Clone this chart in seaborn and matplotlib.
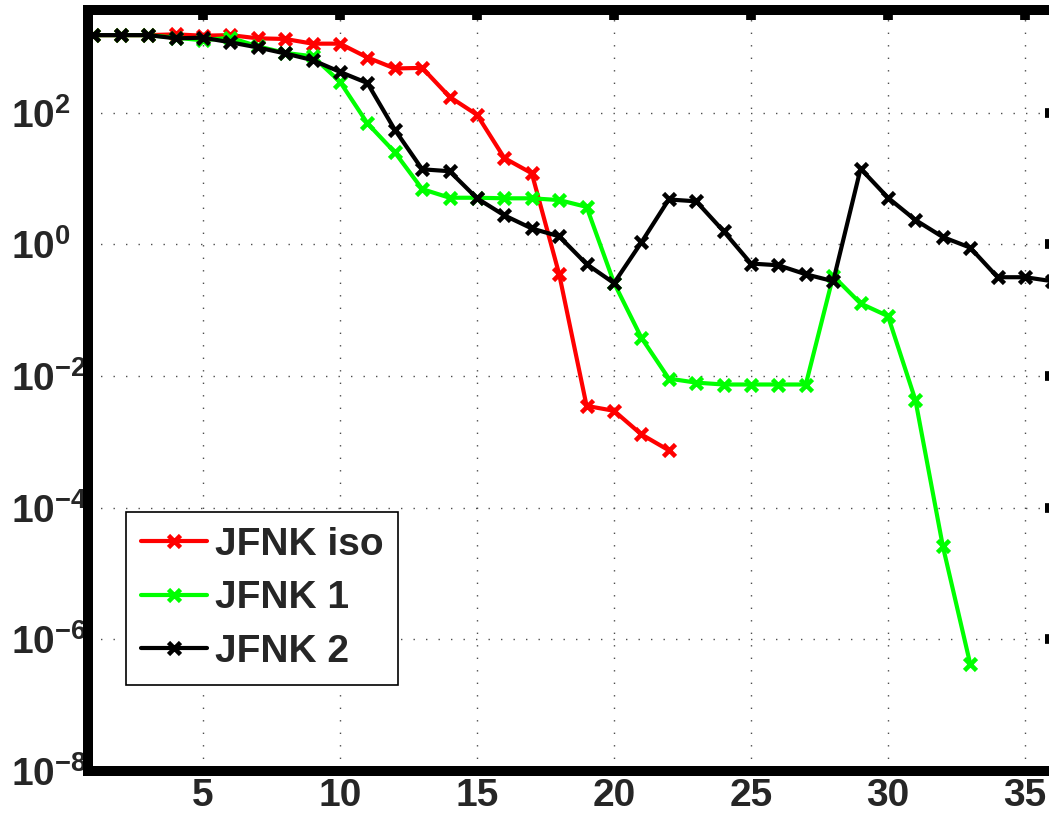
import numpy as np
import pandas as pd
import matplotlib
matplotlib.use("Agg")
import matplotlib.pyplot as plt
import seaborn as sns
from matplotlib.ticker import FixedLocator, FixedFormatter, NullLocator

# residual history
res_iso = [1510, 1510, 1510, 1550, 1480, 1510, 1350, 1320, 1120, 1120, 690,
           470, 480, 174, 93, 20.4, 12, 0.35, 3.5e-3, 2.95e-3, 1.29e-3, 7.4e-4]
res_1 = [1510, 1510, 1510, 1380, 1260, 1380, 1020, 810, 720, 295, 69, 25,
         6.9, 5.1, 5.1, 5.0, 5.0, 4.7, 3.7, 0.26, 0.038, 0.0091, 0.0079,
         0.0074, 0.0074, 0.0074, 0.0074, 0.33, 0.126, 0.081, 0.0043, 2.6e-5, 4.2e-7]
res_2 = [1510, 1510, 1510, 1350, 1380, 1175, 980, 795, 630, 417, 282, 55,
         13.8, 12.9, 5.0, 2.75, 1.74, 1.32, 0.50, 0.257, 1.07, 4.8, 4.5, 1.58,
         0.51, 0.48, 0.35, 0.275, 14.1, 5.1, 2.34, 1.29, 0.89, 0.316, 0.316, 0.275]
names = ["JFNK iso", "JFNK 1", "JFNK 2"]
colors = ["#ff0000", "#00ff00", "#000000"]
xticks = [5, 10, 15, 20, 25, 30, 35]
yexps = [-8, -6, -4, -2, 0, 2]

rows = []
for name, res in zip(names, [res_iso, res_1, res_2]):
    for i, v in enumerate(res):
        rows.append({"iter": i + 1, "res": v, "method": name})
df = pd.DataFrame(rows)

sns.set_style("white")
plt.rcParams["font.family"] = ["Liberation Sans", "DejaVu Sans"]
plt.rcParams["font.weight"] = "bold"
plt.rcParams["mathtext.fontset"] = "custom"
plt.rcParams["mathtext.rm"] = "Liberation Sans:bold"
plt.rcParams["mathtext.bf"] = "Liberation Sans:bold"

W, H = 1049, 819
fig = plt.figure(figsize=(W / 100, H / 100), dpi=100)
# axes box in pixels (x=1 at 93px, 27.4 px per iteration; 65.8 px per decade)
px_unit, px_dec = 27.4, 65.8
x_left, x_right = 0.82, 36.1
y_top_px, y_bot_px = 10, 770.7
left_px = 93.4 - (1 - x_left) * px_unit
right_px = 93.4 + (x_right - 1) * px_unit
ax = fig.add_axes([left_px / W, 1 - y_bot_px / H,
                   (right_px - left_px) / W, (y_bot_px - y_top_px) / H])

sns.lineplot(data=df, x="iter", y="res", hue="method", hue_order=names,
             palette=colors, estimator=None, marker="x", markersize=9,
             mew=3.3, linewidth=3, linestyle="-", ax=ax, legend=False)
# seaborn draws marker edges in white; MATLAB style uses the line colour
for ln in ax.lines[:3]:
    ln.set_markeredgecolor(ln.get_color())
    ln.set_linestyle("-")

ax.set_yscale("log")
ax.set_xlim(x_left, x_right)
ax.set_ylim(1e-8, 10 ** (-8 + (y_bot_px - y_top_px) / px_dec))
ax.set_xlabel("")
ax.set_ylabel("")

ax.xaxis.set_major_locator(FixedLocator(xticks))
ax.set_xticklabels([str(t) for t in xticks], fontsize=28, fontweight="bold")
ax.yaxis.set_major_locator(FixedLocator([10.0 ** e for e in yexps]))
ax.yaxis.set_major_formatter(FixedFormatter(
    [r"$\mathbf{10^{%d}}$" % e for e in yexps]))
ax.yaxis.set_minor_locator(NullLocator())

ax.tick_params(axis="both", which="major", direction="in", length=7.5,
               width=7, top=True, right=True, color="black")
ax.tick_params(axis="x", pad=5)
# labels left-aligned near the figure edge, like MATLAB
ax.tick_params(axis="y", pad=(left_px - 11) * 0.72)
for lab in ax.get_yticklabels():
    lab.set_fontsize(28)
    lab.set_horizontalalignment("left")
for sp in ax.spines.values():
    sp.set_linewidth(7.2)
    sp.set_color("black")

ax.grid(True, which="major", color="0.3", linestyle=(0, (1, 8)), linewidth=1.0)

leg = ax.legend(ax.lines[:3], names, loc="upper left",
                bbox_to_anchor=(126 / W, 1 - 512 / H),
                bbox_transform=fig.transFigure, borderaxespad=0,
                prop={"weight": "bold", "size": 28}, fancybox=False,
                framealpha=1, edgecolor="black", handlelength=1.7,
                handletextpad=0.2, labelspacing=0.45, borderpad=0.38,
                numpoints=1)
leg.get_frame().set_linewidth(1.2)

fig.savefig("out.png", dpi=100)
